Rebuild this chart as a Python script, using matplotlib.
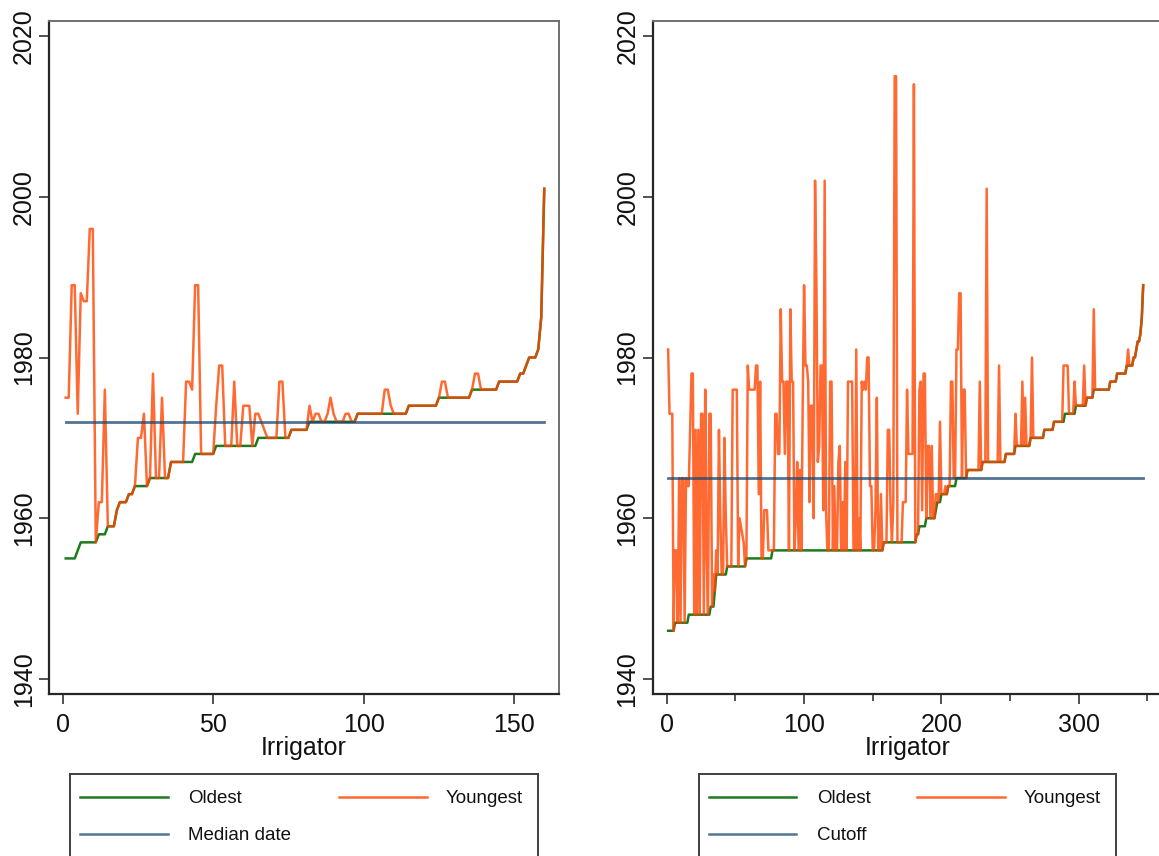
import numpy as np
import matplotlib
matplotlib.use("Agg")
import matplotlib.pyplot as plt

plt.rcParams['font.family'] = ['Liberation Sans', 'DejaVu Sans']

GREEN = '#1f7a1f'
ORANGE = '#ff4500'
BLUE = '#1a476f'

# left panel: oldest date per irrigator (steps as year / run length), youngest date, median
left_old_years = [1955, 1956, 1957, 1958, 1959, 1961, 1962, 1963, 1964, 1965, 1967, 1968, 1969,
                  1970, 1971, 1972, 1973, 1974, 1975, 1976, 1977, 1978, 1979, 1980, 1981, 1985, 2001]
left_old_runs = [4, 1, 6, 3, 3, 1, 3, 2, 5, 7, 8, 7, 14,
                 11, 6, 16, 17, 10, 11, 9, 7, 2, 1, 3, 1, 1, 1]
left_young = [
    1975, 1975, 1989, 1989, 1973, 1988, 1987, 1987, 1996, 1996,
    1957, 1962, 1962, 1976, 1959, 1959, 1959, 1961, 1962, 1962,
    1962, 1963, 1963, 1964, 1970, 1970, 1973, 1964, 1965, 1978,
    1965, 1965, 1975, 1965, 1965, 1967, 1967, 1967, 1967, 1967,
    1977, 1977, 1976, 1989, 1989, 1968, 1968, 1968, 1968, 1968,
    1974, 1979, 1979, 1969, 1969, 1969, 1977, 1969, 1969, 1974,
    1974, 1974, 1969, 1973, 1973, 1972, 1971, 1970, 1970, 1970,
    1970, 1977, 1977, 1970, 1970, 1971, 1971, 1971, 1971, 1971,
    1971, 1974, 1972, 1973, 1973, 1972, 1972, 1973, 1975, 1973,
    1972, 1972, 1972, 1973, 1973, 1972, 1972, 1973, 1973, 1973,
    1973, 1973, 1973, 1973, 1973, 1973, 1976, 1976, 1974, 1973,
    1973, 1973, 1973, 1973, 1974, 1974, 1974, 1974, 1974, 1974,
    1974, 1974, 1974, 1974, 1975, 1977, 1977, 1975, 1975, 1975,
    1975, 1975, 1975, 1975, 1975, 1976, 1978, 1978, 1976, 1976,
    1976, 1976, 1976, 1976, 1977, 1977, 1977, 1977, 1977, 1977,
    1977, 1978, 1978, 1979, 1980, 1980, 1980, 1981, 1985, 2001,
]
left_ref = 1972
left_ref_label = 'Median date'

# right panel
right_old_years = [1946, 1947, 1948, 1949, 1951, 1953, 1954, 1955, 1956, 1957, 1958, 1959, 1960,
                   1961, 1962, 1963, 1964, 1965, 1966, 1967, 1968, 1969, 1970, 1971, 1972, 1973,
                   1974, 1975, 1976, 1977, 1978, 1979, 1980, 1981, 1982, 1983, 1985, 1989]
right_old_runs = [5, 10, 16, 3, 1, 8, 14, 19, 81, 24, 2, 5, 7,
                  1, 3, 5, 6, 8, 11, 17, 7, 11, 10, 7, 8, 8,
                  8, 5, 12, 5, 7, 5, 2, 1, 2, 1, 1, 1]
right_young = [
    1981, 1973, 1973, 1973, 1946, 1956, 1956, 1947, 1965, 1947,
    1965, 1965, 1947, 1965, 1964, 1964, 1971, 1978, 1978, 1948,
    1971, 1948, 1971, 1948, 1973, 1973, 1948, 1976, 1956, 1948,
    1973, 1973, 1949, 1953, 1951, 1956, 1953, 1971, 1960, 1953,
    1953, 1970, 1960, 1954, 1954, 1954, 1954, 1976, 1976, 1976,
    1976, 1954, 1960, 1959, 1958, 1957, 1954, 1955, 1979, 1976,
    1976, 1976, 1976, 1976, 1979, 1979, 1963, 1977, 1955, 1955,
    1961, 1961, 1961, 1956, 1956, 1956, 1956, 1956, 1973, 1973,
    1968, 1968, 1986, 1977, 1977, 1968, 1977, 1977, 1956, 1986,
    1977, 1977, 1956, 1960, 1967, 1956, 1966, 1956, 1974, 1989,
    1979, 1979, 1977, 1962, 1974, 1974, 1960, 2002, 1989, 1967,
    1969, 1979, 1979, 1961, 2002, 1961, 1956, 1956, 1977, 1977,
    1956, 1964, 1956, 1956, 1967, 1969, 1956, 1962, 1956, 1967,
    1956, 1977, 1977, 1977, 1977, 1956, 1956, 1981, 1956, 1960,
    1956, 1977, 1976, 1977, 1976, 1980, 1980, 1964, 1964, 1956,
    1956, 1961, 1975, 1956, 1956, 1963, 1956, 1957, 1957, 1957,
    1971, 1971, 1961, 1957, 1962, 2015, 2015, 1957, 1957, 1957,
    1957, 1962, 1962, 1962, 1976, 1968, 1968, 1968, 1968, 2014,
    1957, 1958, 1958, 1976, 1977, 1961, 1978, 1978, 1960, 1969,
    1969, 1960, 1969, 1960, 1960, 1963, 1963, 1962, 1972, 1963,
    1963, 1963, 1964, 1963, 1964, 1964, 1977, 1977, 1965, 1965,
    1981, 1981, 1988, 1988, 1965, 1976, 1976, 1965, 1966, 1966,
    1966, 1966, 1966, 1966, 1966, 1966, 1966, 1977, 1966, 1967,
    1967, 1967, 2001, 1967, 1967, 1967, 1967, 1967, 1967, 1967,
    1967, 1979, 1967, 1967, 1967, 1967, 1968, 1968, 1968, 1968,
    1968, 1968, 1968, 1973, 1969, 1969, 1969, 1969, 1977, 1969,
    1975, 1969, 1969, 1969, 1970, 1980, 1970, 1970, 1970, 1970,
    1970, 1970, 1970, 1970, 1971, 1971, 1971, 1971, 1971, 1971,
    1971, 1972, 1972, 1972, 1972, 1972, 1972, 1972, 1979, 1979,
    1979, 1979, 1973, 1973, 1973, 1973, 1977, 1974, 1974, 1974,
    1974, 1974, 1974, 1979, 1974, 1975, 1975, 1975, 1975, 1975,
    1986, 1976, 1976, 1976, 1976, 1976, 1976, 1976, 1976, 1976,
    1976, 1976, 1977, 1977, 1977, 1977, 1977, 1978, 1978, 1978,
    1978, 1978, 1978, 1978, 1979, 1981, 1979, 1979, 1979, 1980,
    1980, 1981, 1982, 1982, 1983, 1985, 1989,
]
right_ref = 1965
right_ref_label = 'Cutoff'

year_ticks = [1940, 1960, 1980, 2000, 2020]

W, H = 1159, 856
fig = plt.figure(figsize=(W / 100, H / 100), dpi=100)


def px_box(x0, y0, x1, y1):
    # pixel box (top-left origin) -> figure fraction rect
    return [x0 / W, 1 - y1 / H, (x1 - x0) / W, (y1 - y0) / H]


def draw_panel(box, old, young, ref, xlim, xticks, minor=None):
    ax = fig.add_axes(box)
    x = np.arange(1, len(old) + 1)
    ax.plot(x, old, color=GREEN, lw=1.8)
    ax.plot(x, young, color=ORANGE, lw=1.8, alpha=0.8)
    ax.plot([x[0], x[-1]], [ref, ref], color=BLUE, lw=2.0, alpha=0.75)
    ax.set_xlim(*xlim)
    ax.set_ylim(1938.13, 2021.87)
    ax.set_xticks(xticks)
    if minor:
        ax.set_xticks(minor, minor=True)
    ax.set_yticks(year_ticks)
    ax.set_yticklabels([str(t) for t in year_ticks], rotation=90, va='center')
    ax.tick_params(axis='both', which='major', direction='out', length=7.5, width=1.2,
                   color='#333333', labelsize=18, labelcolor='#111111')
    ax.tick_params(axis='x', which='major', pad=6.5)
    ax.tick_params(axis='y', which='major', pad=2)
    ax.tick_params(axis='x', which='minor', direction='out', length=5, width=1.2, color='#333333')
    ax.set_xlabel('Irrigator', fontsize=18, labelpad=-1, color='#111111')
    for side in ['left', 'bottom']:
        ax.spines[side].set_color('#262626')
        ax.spines[side].set_linewidth(1.6)
    for side in ['top', 'right']:
        ax.spines[side].set_color('#707070')
        ax.spines[side].set_linewidth(1.4)
    return ax


def draw_legend(x0, x1, entries, keys, texts):
    y0, y1 = 774, 872
    lg = fig.add_axes(px_box(x0, y0, x1, y1))
    lg.set_xlim(x0, x1)
    lg.set_ylim(y1, y0)
    lg.set_xticks([])
    lg.set_yticks([])
    for s in lg.spines.values():
        s.set_color('#404040')
        s.set_linewidth(1.4)
    rows = [797, 834]
    for (label, color, alpha, row, col) in entries:
        ky = rows[row]
        lg.plot(keys[col], [ky, ky], color=color, alpha=alpha, lw=1.8)
        lg.text(texts[col], ky + 6.5, label, fontsize=13.5, va='baseline', ha='left', color='#111111')


draw_panel(px_box(49, 21, 559, 694), np.repeat(left_old_years, left_old_runs), left_young,
           left_ref, (-4.55, 164.9), [0, 50, 100, 150])
draw_panel(px_box(652.5, 21, 1162, 694), np.repeat(right_old_years, right_old_runs), right_young,
           right_ref, (-10.4, 360.7), [0, 100, 200, 300], minor=[50, 150, 250, 350])

draw_legend(70, 538,
            [('Oldest', GREEN, 1.0, 0, 0), ('Youngest', ORANGE, 0.8, 0, 1),
             (left_ref_label, BLUE, 0.75, 1, 0)],
            keys=[[80, 168], [339, 427]], texts=[188, 446])
draw_legend(699, 1116,
            [('Oldest', GREEN, 1.0, 0, 0), ('Youngest', ORANGE, 0.8, 0, 1),
             (right_ref_label, BLUE, 0.75, 1, 0)],
            keys=[[709, 796], [917, 1005]], texts=[817, 1024])

fig.savefig('out.png', dpi=100)
